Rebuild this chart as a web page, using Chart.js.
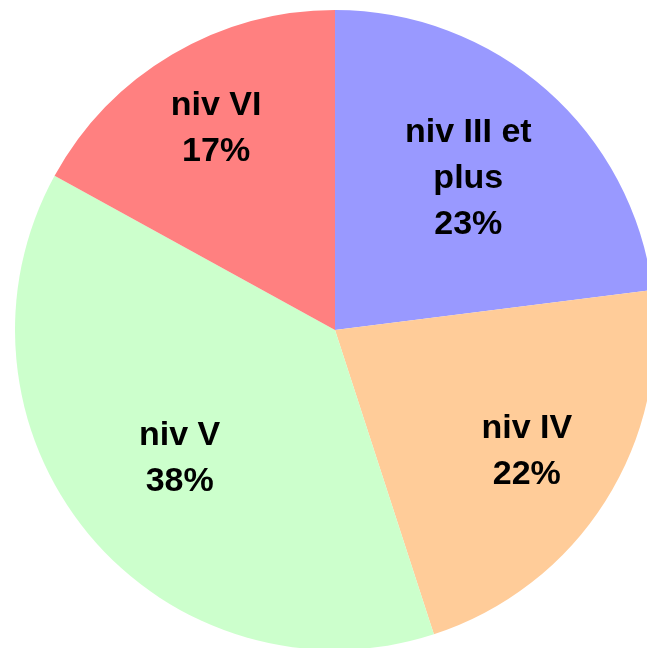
<!DOCTYPE html>
<html>
<head>
<meta charset="utf-8">
<script src="https://cdn.jsdelivr.net/npm/chart.js@4/dist/chart.umd.min.js"></script>
<style>
  html, body { margin: 0; padding: 0; background: #ffffff; overflow: hidden; width: 647px; height: 648px; }
  #wrap { position: absolute; left: 15px; top: 10px; width: 640px; height: 640px; }
</style>
</head>
<body>
<div id="wrap"><canvas id="c" width="640" height="640"></canvas></div>
<script>
// Data
const categories = ['niv III et plus', 'niv IV', 'niv V', 'niv VI'];
const labelLines = [['niv III et', 'plus'], ['niv IV'], ['niv V'], ['niv VI']];
const values = [23, 22, 38, 17];
const colors = ['#9999FF', '#FFCC99', '#CCFFCC', '#FF8080'];
// style: label radial position as fraction of radius
const labelRadius = [0.63, 0.71, 0.63, 0.73];

const labelPlugin = {
  id: 'sliceLabels',
  afterDatasetsDraw(chart) {
    const ctx = chart.ctx;
    const meta = chart.getDatasetMeta(0);
    ctx.save();
    ctx.fillStyle = '#000000';
    ctx.font = 'bold 34px "Liberation Sans", Arial, sans-serif';
    ctx.textAlign = 'center';
    ctx.textBaseline = 'middle';
    const lineH = 46;
    meta.data.forEach((arc, i) => {
      const p = arc.getProps(['x', 'y', 'startAngle', 'endAngle', 'outerRadius'], true);
      const mid = (p.startAngle + p.endAngle) / 2;
      const r = p.outerRadius * labelRadius[i];
      const cx = p.x + Math.cos(mid) * r;
      const cy = p.y + Math.sin(mid) * r;
      const lines = labelLines[i].concat([values[i] + '%']);
      const top = cy - (lines.length - 1) * lineH / 2;
      lines.forEach((t, k) => ctx.fillText(t, cx, top + k * lineH));
    });
    ctx.restore();
  }
};

new Chart(document.getElementById('c'), {
  type: 'pie',
  data: {
    labels: categories,
    datasets: [{
      data: values,
      backgroundColor: colors,
      borderWidth: 0,
      hoverOffset: 0
    }]
  },
  options: {
    responsive: false,
    animation: false,
    layout: { padding: 0 },
    plugins: {
      legend: { display: false },
      tooltip: { enabled: false }
    }
  },
  plugins: [labelPlugin]
});
</script>
</body>
</html>
